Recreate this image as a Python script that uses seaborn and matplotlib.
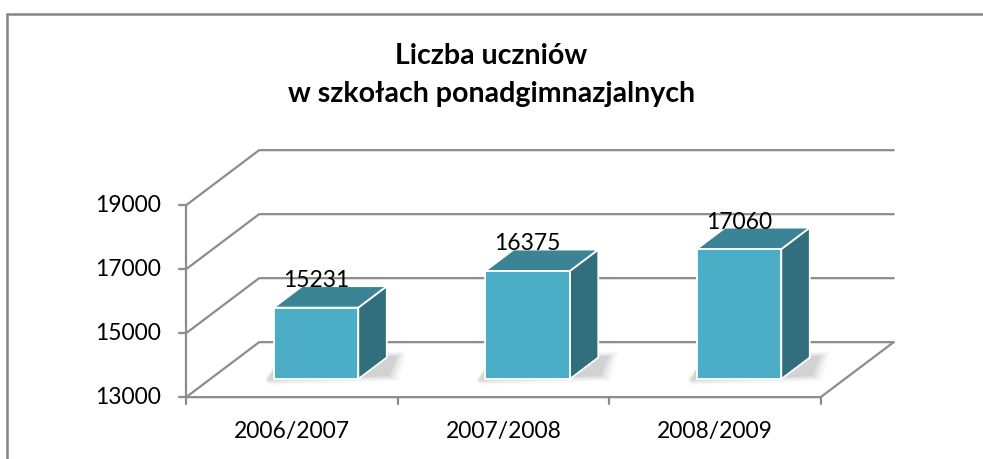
import matplotlib
matplotlib.use("Agg")
import matplotlib.pyplot as plt
import seaborn as sns
import pandas as pd
from matplotlib.patches import Polygon
from matplotlib.lines import Line2D

# ---- data ----
categories = ["2006/2007", "2007/2008", "2008/2009"]
values = [15231, 16375, 17060]
y_ticks = [13000, 15000, 17000, 19000]
title_lines = ["Liczba uczniów", "w szkołach ponadgimnazjalnych"]

BASE = 13000
W, H, DPI = 983, 459, 100

sns.set_theme(style="white")
plt.rcParams["font.family"] = ["Lato", "DejaVu Sans"]

fig = plt.figure(figsize=(W / DPI, H / DPI), dpi=DPI)
ax = fig.add_axes([0, 0, 1, 1])

df = pd.DataFrame({"cat": categories, "val": values})
sns.barplot(data=df, x="cat", y="val", ax=ax, width=0.4, color="#4BADC6",
            saturation=1, edgecolor="white", linewidth=1.3, zorder=5)

# pixel scale -> data scale
px_x = 211.5          # pixels per category
px_y = 0.032          # pixels per unit
x0_px, y0_px = 316, 379
ax.set_xlim(-x0_px / px_x, (W - x0_px) / px_x)
ax.set_ylim(BASE - (H - y0_px) / px_y, BASE + y0_px / px_y)
ax.axis("off")

# depth vector (data units)
Dx, Dy = 73 / px_x, 55 / px_y
f0 = 0.33      # bar front plane depth fraction
fb = 0.39      # bar depth fraction
gray = "#8C8C8C"
lw = 1.6
FS = 16.5

def front(x, v):
    return (x - f0 * Dx, v - f0 * Dy)

def back(x, v):
    return (x + (1 - f0) * Dx, v + (1 - f0) * Dy)

xl, xr = -0.5, len(categories) - 0.5

# walls / grid
for v in y_ticks:
    fx, fy = front(xl, v)
    bx, by = back(xl, v)
    bx2, _ = back(xr, v)
    ax.add_line(Line2D([fx, bx, bx2], [fy, by, by], color=gray, lw=lw, zorder=1))
# floor
fx1, fy1 = front(xl, BASE)
fx2, _ = front(xr, BASE)
bx2, by2 = back(xr, BASE)
ax.add_line(Line2D([fx1, fx2, bx2], [fy1, fy1, by2], color=gray, lw=lw, zorder=2))
# vertical axis
ax.add_line(Line2D([fx1, fx1], [front(xl, BASE)[1], front(xl, y_ticks[-1])[1]],
                   color=gray, lw=lw, zorder=2))
tick_len_x = 7 / px_x
tick_len_y = 7 / px_y
for v in y_ticks:
    tx, ty = front(xl, v)
    ax.add_line(Line2D([tx - tick_len_x, tx], [ty, ty], color=gray, lw=lw, zorder=2))
    ax.text(tx - 25 / px_x, ty, str(v), ha="right", va="center", fontsize=FS,
            color="black")
for k in range(len(categories) + 1):
    tx, ty = front(xl + k, BASE)
    ax.add_line(Line2D([tx, tx], [ty, ty - tick_len_y], color=gray, lw=lw, zorder=2))
for k, c in enumerate(categories):
    tx, ty = front(k, BASE)
    ax.text(tx, ty - 34 / px_y, c, ha="center", va="center", fontsize=FS,
            color="black")

# 3D bar faces
dx, dy = fb * Dx, fb * Dy
for p, v in zip(ax.patches, values):
    p.set_y(BASE)
    p.set_height(v - BASE)
    x, w = p.get_x(), p.get_width()
    # soft shadow on floor
    for i, a in enumerate([0.04, 0.06, 0.08, 0.10]):
        g = (4 - i) * 3
        sx, sy = g / px_x, g / px_y * 0.5
        ax.add_patch(Polygon([(x - 10 / px_x + sx * 0.3, BASE - sy),
                              (x + w + dx + sx, BASE + dy * 0.2 - sy),
                              (x + w + dx + sx + 8 / px_x, BASE + dy + sy),
                              (x + 8 / px_x, BASE + dy + sy)],
                             closed=True, facecolor="#505050", alpha=a,
                             edgecolor="none", zorder=3))
    top = [(x, v), (x + w, v), (x + w + dx, v + dy), (x + dx, v + dy)]
    side = [(x + w, BASE), (x + w + dx, BASE + dy), (x + w + dx, v + dy), (x + w, v)]
    ax.add_patch(Polygon(side, closed=True, facecolor="#316F7D", edgecolor="white",
                         lw=1.3, zorder=4))
    ax.add_patch(Polygon(top, closed=True, facecolor="#3A8496", edgecolor="white",
                         lw=1.3, zorder=4))
    ax.annotate(str(v), (x + w / 2, v), xytext=(0, 27 * 72 / DPI),
                textcoords="offset points", ha="center", va="center",
                fontsize=FS, color="black", zorder=7)

# title
fig.text(0.5, 1 - 56 / H, title_lines[0], ha="center", va="center",
         fontsize=20.5, fontweight="bold", color="black")
fig.text(0.5, 1 - 94 / H, title_lines[1], ha="center", va="center",
         fontsize=20.5, fontweight="bold", color="black")

# outer border
fig.add_artist(Line2D([7 / W, 7 / W], [0, 1 - 14 / H], color="#858585", lw=1.8,
                      transform=fig.transFigure))
fig.add_artist(Line2D([7 / W, 1], [1 - 14 / H, 1 - 14 / H], color="#858585", lw=1.8,
                      transform=fig.transFigure))

fig.savefig("out.png", dpi=DPI, facecolor="white")
